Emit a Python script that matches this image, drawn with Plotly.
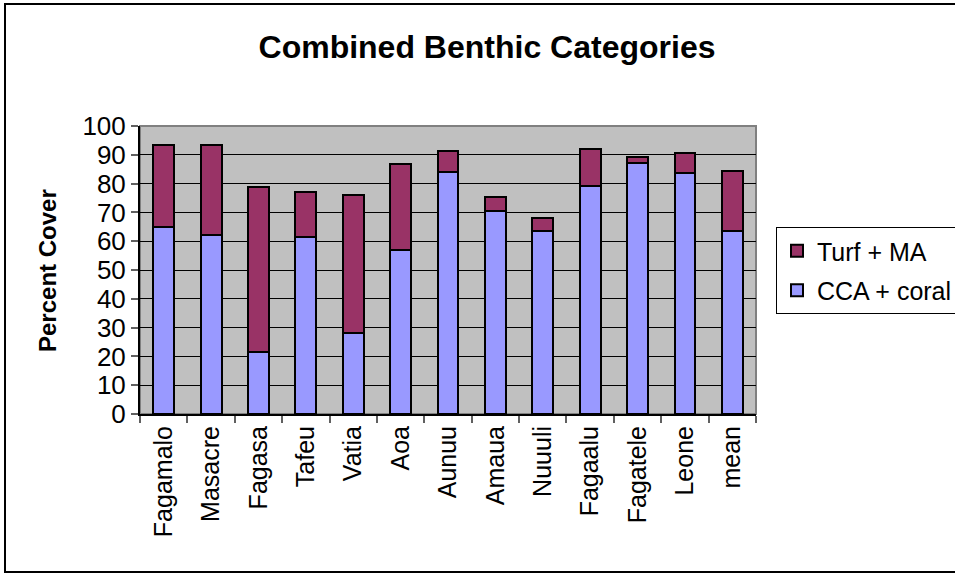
import plotly.graph_objects as go

# Survey sites plus the overall mean
sites = ["Fagamalo", "Masacre", "Fagasa", "Tafeu", "Vatia", "Aoa", "Aunuu",
         "Amaua", "Nuuuli", "Fagaalu", "Fagatele", "Leone", "mean"]

# Percent cover of each combined category
cca_coral = [65.1, 62.2, 21.4, 61.6, 28.3, 56.9, 83.9, 70.5, 63.6, 79.0, 87.3, 83.8, 63.7]
turf_ma = [28.4, 31.3, 57.4, 15.4, 47.9, 29.8, 7.5, 5.0, 4.3, 13.0, 1.9, 7.0, 20.8]

y_ticks = [0, 10, 20, 30, 40, 50, 60, 70, 80, 90, 100]

W, H = 955, 575
L, R, T, B = 140, 199, 126, 161
PW, PH = W - L - R, H - T - B

FONT = "Liberation Sans, Arial, sans-serif"


def px_x(x):
    return (x - L) / PW


def px_y(y):
    return (H - B - y) / PH


fig = go.Figure()
fig.add_trace(go.Bar(
    x=sites, y=cca_coral, name="CCA + coral",
    legendgroup="cca", legendrank=2,
    marker=dict(color="#9999FF", line=dict(color="black", width=2)),
))
fig.add_trace(go.Bar(
    x=sites, y=turf_ma, name="Turf + MA",
    legendgroup="turf", legendrank=1,
    marker=dict(color="#993366", line=dict(color="black", width=2)),
))

fig.update_layout(
    width=W, height=H,
    margin=dict(l=L, r=R, t=T, b=B, autoexpand=False),
    barmode="stack",
    bargap=0.56,
    paper_bgcolor="white",
    plot_bgcolor="#C0C0C0",
    font=dict(family=FONT, color="black"),
    title=dict(
        text="<b>Combined Benthic Categories</b>",
        x=487 / W, xanchor="center",
        y=1 - 47 / H, yanchor="middle",
        font=dict(family=FONT, size=32, color="black"),
    ),
    legend=dict(
        x=px_x(776), xanchor="left",
        y=px_y(227), yanchor="top",
        traceorder="grouped",
        tracegroupgap=4,
        entrywidth=190, entrywidthmode="pixels",
        bgcolor="white",
        bordercolor="black", borderwidth=1,
        font=dict(family=FONT, size=25, color="black"),
    ),
    showlegend=True,
)

fig.update_xaxes(
    showline=True, linecolor="black", linewidth=2,
    ticks="outside", tickson="boundaries", ticklen=7,
    tickcolor="#606060", tickwidth=2,
    tickangle=-90,
    tickfont=dict(family=FONT, size=25, color="black"),
    showgrid=False,
)

fig.update_yaxes(
    range=[0, 100],
    tickvals=y_ticks,
    showline=True, linecolor="black", linewidth=2,
    ticks="outside", ticklen=7, tickcolor="#606060", tickwidth=2,
    tickfont=dict(family=FONT, size=26, color="black"),
    showgrid=True, gridcolor="black", gridwidth=1,
    zeroline=False,
)

# Axis title drawn as rotated text beside the tick labels
fig.add_annotation(
    text="<b>Percent Cover</b>",
    xref="paper", yref="paper",
    x=px_x(47), y=px_y(271),
    xanchor="center", yanchor="middle",
    textangle=-90, showarrow=False,
    font=dict(family=FONT, size=24, color="black"),
)

# Grey frame around the plotting area
fig.add_shape(
    type="rect", xref="paper", yref="paper",
    x0=0, x1=1, y0=0, y1=1,
    line=dict(color="#808080", width=2),
    layer="below",
)

# Outer chart border
fig.add_shape(
    type="rect", xref="paper", yref="paper",
    x0=px_x(5), x1=px_x(962), y0=px_y(572), y1=px_y(4),
    line=dict(color="black", width=2),
)

fig.write_html("out.html")
